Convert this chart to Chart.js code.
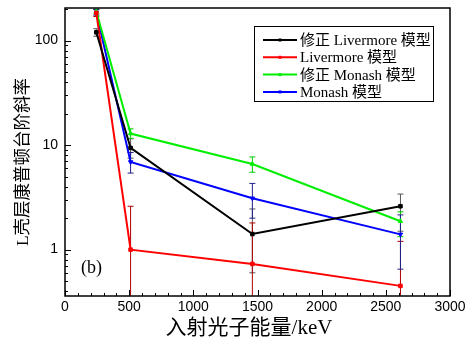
<!DOCTYPE html>
<html>
<head>
<meta charset="utf-8">
<script src="https://cdn.jsdelivr.net/npm/chart.js@4.4.1/dist/chart.umd.min.js"></script>
<style>
  html, body { margin: 0; padding: 0; background: #fff; }
  #wrap { width: 470px; height: 342px; }
</style>
</head>
<body>
<div id="wrap"><canvas id="grafico" width="470" height="342"></canvas></div>
<script>
// energias de los fotones (keV)
const energias = [244, 511, 1460, 2614];

// series (valor central)
const modLivermore = [120, 9.4, 1.41, 2.6];
const livermore = [184, 1.0, 0.73, 0.45];
const modMonash = [190, 12.9, 6.6, 1.87];
const monash = [187, 6.9, 3.1, 1.4];

// barras de error: limite inferior / superior
const modLivermoreBajo = [110, 7.5, 0.6, 1.5];
const modLivermoreAlto = [130, 11.5, 2.45, 3.4];
const livermoreBajo = [170, 0.05, 0.05, 0.05];
const livermoreAlto = [198, 2.6, 1.8, 1.2];
const modMonashBajo = [180, 11.6, 5.5, 1.33];
const modMonashAlto = [200, 14.3, 7.7, 2.3];
const monashBajo = [175, 5.4, 2.0, 0.65];
const monashAlto = [199, 8.5, 4.3, 2.15];

const etiquetas = ['修正 Livermore 模型', 'Livermore 模型', '修正 Monash 模型', 'Monash 模型'];
const ticksY = [1, 10, 100];

const serif = '"Liberation Serif", "Noto Sans CJK SC", serif';
const sans = '"Liberation Sans", Arial, sans-serif';

function serie(label, valores, color, punto, rot, bajo, alto, colorError) {
    return {
        label: label,
        data: energias.map((e, i) => ({ x: e, y: valores[i] })),
        borderColor: color,
        backgroundColor: color,
        borderWidth: 2,
        pointStyle: punto,
        pointRotation: rot,
        pointRadius: 2.5,
        pointBorderWidth: 1,
        errBajo: bajo,
        errAlto: alto,
        errColor: colorError
    };
}

// barras de error dibujadas con las escalas del grafico
const barrasError = {
    id: 'barrasError',
    beforeDatasetsDraw(chart) {
        const { ctx, chartArea, scales: { x, y } } = chart;
        ctx.save();
        ctx.beginPath();
        ctx.rect(chartArea.left, chartArea.top, chartArea.right - chartArea.left, chartArea.bottom - chartArea.top);
        ctx.clip();
        ctx.lineWidth = 1;
        chart.data.datasets.forEach(ds => {
            ctx.strokeStyle = ds.errColor;
            ds.data.forEach((p, i) => {
                const px = x.getPixelForValue(p.x);
                const y1 = y.getPixelForValue(ds.errBajo[i]);
                const y2 = y.getPixelForValue(ds.errAlto[i]);
                ctx.beginPath();
                ctx.moveTo(px, y1); ctx.lineTo(px, y2);
                ctx.moveTo(px - 3, y1); ctx.lineTo(px + 3, y1);
                ctx.moveTo(px - 3, y2); ctx.lineTo(px + 3, y2);
                ctx.stroke();
            });
        });
        ctx.restore();
    }
};

// marco, marcas hacia dentro, titulos y leyenda
const decorado = {
    id: 'decorado',
    afterDraw(chart) {
        const { ctx, chartArea: a, scales: { x, y } } = chart;
        ctx.save();
        ctx.strokeStyle = '#000';
        ctx.lineWidth = 1.5;
        ctx.strokeRect(a.left, a.top, a.right - a.left, a.bottom - a.top);

        ctx.lineWidth = 1;
        ctx.beginPath();
        for (let v = 0; v <= 3000; v += 100) {
            const px = Math.round(x.getPixelForValue(v)) + 0.5;
            const len = v % 500 === 0 ? 6 : 3;
            ctx.moveTo(px, a.bottom); ctx.lineTo(px, a.bottom - len);
        }
        for (let d = 0.1; d <= 100; d *= 10) {
            for (let k = 1; k <= 9; k++) {
                const v = d * k;
                if (v < y.min || v > y.max) continue;
                const py = Math.round(y.getPixelForValue(v)) + 0.5;
                const len = k === 1 ? 6 : 3;
                ctx.moveTo(a.left, py); ctx.lineTo(a.left + len, py);
            }
        }
        ctx.stroke();

        // titulos de ejes
        ctx.fillStyle = '#000';
        ctx.textAlign = 'center';
        ctx.textBaseline = 'middle';
        ctx.font = '21px ' + serif;
        ctx.fillText('入射光子能量/keV', 249, 328);
        ctx.save();
        ctx.translate(23, 162);
        ctx.rotate(-Math.PI / 2);
        ctx.font = '17.5px ' + serif;
        ctx.fillText('L壳层康普顿台阶斜率', 0, 0);
        ctx.restore();

        ctx.textAlign = 'left';
        ctx.font = '18px ' + serif;
        ctx.fillText('(b)', 81, 268);

        // leyenda
        ctx.lineWidth = 1;
        ctx.strokeRect(254.5, 26.5, 179, 75);
        ctx.font = '15px ' + serif;
        chart.data.datasets.forEach((ds, i) => {
            const yy = 40 + i * 17.3;
            ctx.strokeStyle = ds.borderColor;
            ctx.lineWidth = 2;
            ctx.beginPath();
            ctx.moveTo(263, yy); ctx.lineTo(297, yy);
            ctx.stroke();
            ctx.fillStyle = ds.borderColor;
            ctx.fillRect(278.5, yy - 1.5, 3, 3);
            ctx.fillStyle = '#000';
            ctx.fillText(ds.label, 300, yy + 1);
        });
        ctx.restore();
    }
};

new Chart(document.getElementById('grafico').getContext('2d'), {
    type: 'line',
    data: {
        datasets: [
            serie(etiquetas[0], modLivermore, '#000000', 'rect', 0, modLivermoreBajo, modLivermoreAlto, '#555555'),
            serie(etiquetas[1], livermore, '#ff0000', 'rect', 0, livermoreBajo, livermoreAlto, '#b00000'),
            serie(etiquetas[2], modMonash, '#00ee00', 'triangle', 0, modMonashBajo, modMonashAlto, '#00cc00'),
            serie(etiquetas[3], monash, '#0000ff', 'triangle', 180, monashBajo, monashAlto, '#20208a')
        ]
    },
    options: {
        responsive: false,
        animation: false,
        layout: { padding: { left: 0, right: 20, top: 8, bottom: 0 } },
        plugins: { legend: { display: false }, tooltip: { enabled: false } },
        scales: {
            x: {
                type: 'linear',
                min: 0,
                max: 3000,
                grid: { display: false, drawTicks: false },
                border: { display: false },
                ticks: { stepSize: 500, padding: 3, color: '#000', font: { family: sans, size: 14 }, callback: v => String(v) },
                afterFit(s) { s.height = 46; s.paddingLeft = 0; s.paddingRight = 0; }
            },
            y: {
                type: 'logarithmic',
                min: 0.36,
                max: 205,
                grid: { display: false, drawTicks: false },
                border: { display: false },
                afterBuildTicks(s) { s.ticks = ticksY.map(v => ({ value: v })); },
                ticks: { padding: 7, color: '#000', font: { family: sans, size: 14 }, callback: v => String(v) },
                afterFit(s) { s.width = 65; s.paddingTop = 0; s.paddingBottom = 0; }
            }
        }
    },
    plugins: [barrasError, decorado]
});
</script>
</body>
</html>
